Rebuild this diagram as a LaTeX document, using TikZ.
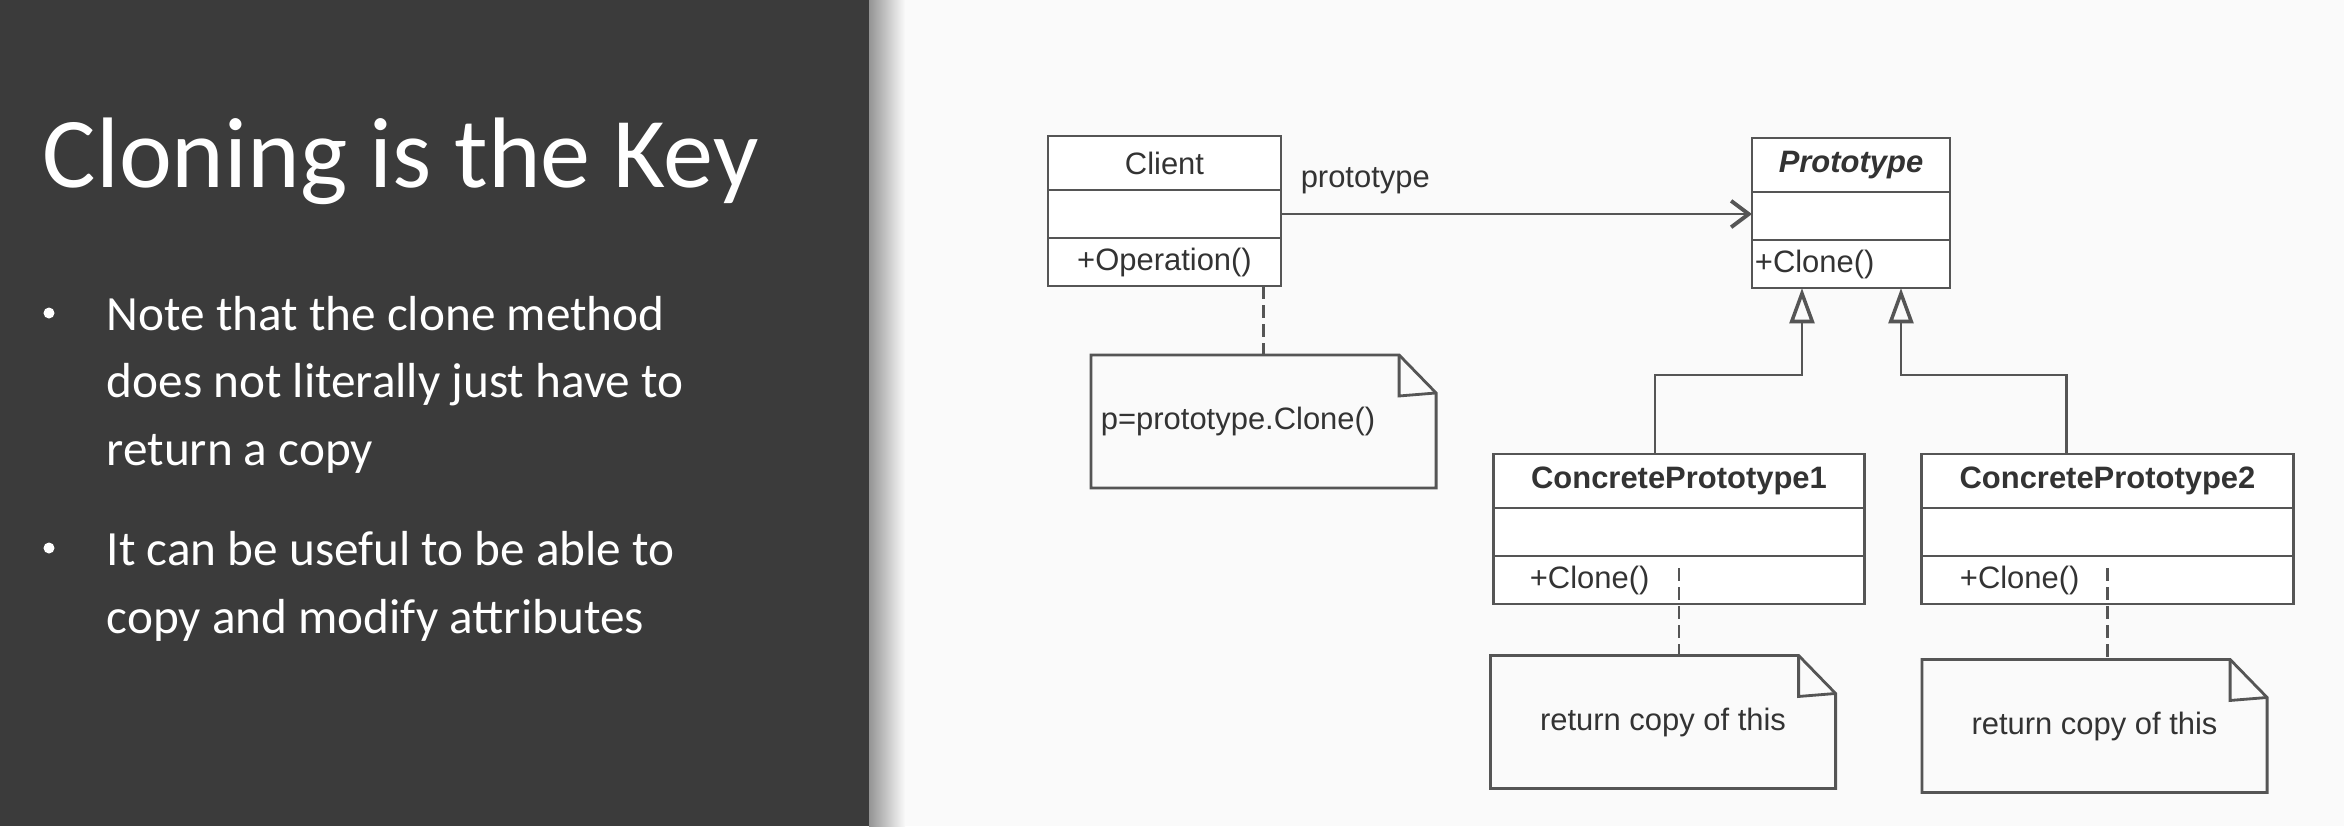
\documentclass[tikz,border=0pt]{standalone}
\usepackage{fontspec}
\setmainfont{Carlito}
\newfontfamily\umlfont{Liberation Sans}
\usetikzlibrary{arrows.meta,calc,positioning}
\definecolor{panel}{HTML}{3B3B3B}
\definecolor{bgright}{HTML}{FAFAFA}
\definecolor{umlgray}{HTML}{555555}
\definecolor{umltextc}{HTML}{333333}
\tikzset{
	umlline/.style={draw=umlgray, line width=0.8pt},
	umlbase/.style={umlline, fill=white, inner sep=0pt, outer sep=0pt,
		font=\umlfont\fontsize{8.8pt}{10pt}\selectfont, text=umltextc},
	umltitle/.style={umlbase, minimum height=0.54cm},
	umlpart/.style={umlbase, minimum height=0.48cm},
	umlnote/.style={inner xsep=0.1cm, inner ysep=0pt, outer sep=0pt, minimum width=3.45cm, minimum height=1.33cm,
		font=\umlfont\fontsize{8.8pt}{10pt}\selectfont, text=umltextc},
	noteline/.style={draw=umlgray, line width=0.6pt, dash pattern=on 3.6pt off 1.8pt},
	assoc/.style={draw=umlgray, line width=0.6pt, -{Straight Barb[length=5pt,width=7.5pt,line width=1.1pt]}},
	inherit/.style={draw=umlgray, line width=0.6pt, -{Triangle[open,length=10pt,width=7pt,line width=1pt]}},
	bulletdot/.style={circle, fill=white, minimum size=0.11cm, inner sep=0pt},
	slidetext/.style={text=white, anchor=base west, align=left, inner sep=0pt,
		font=\fontsize{14pt}{19.06pt}\selectfont}
}
\begin{document}
\begin{tikzpicture}[x=0.01cm, y=-0.01cm]
	\useasboundingbox (0,0) rectangle (2344,826);
	% backgrounds
	\fill[bgright] (0,0) rectangle (2344,826);
	\fill[panel] (0,0) rectangle (869,826);
	\shade[left color=black!42, right color=bgright] (869,0) rectangle (905,826);
	% slide text (base anchor sits on the last line)
	\node[text=white, anchor=base west, inner sep=0pt, font=\fontsize{28.5pt}{34pt}\selectfont] (title) at (42,187) {Cloning is the Key};
	\node[bulletdot] (b1) at (49,313) {};
	\node[slidetext] (t1) at (106,465) {Note that the clone method\\does not literally just have to\\return a copy};
	\node[bulletdot] (b2) at (49,548) {};
	\node[slidetext] (t2) at (106,633) {It can be useful to be able to\\copy and modify attributes};
	% client class
	\node[umltitle, minimum width=2.33cm] (client) at (1164.5,163) {Client};
	\node[umlpart, minimum width=2.33cm, below=0pt of client] (clientattr) {};
	\node[umlpart, text width=2.13cm, inner xsep=0.1cm, align=center, below=0pt of clientattr] (clientop) {+Operation()};
	% prototype class
	\node[umltitle, minimum width=1.98cm] (proto) at (1851,165) {\bfseries\itshape Prototype};
	\node[umlpart, minimum width=1.98cm, below=0pt of proto] (protoattr) {};
	\node[umlpart, text width=1.92cm, inner xsep=0.03cm, align=left, below=0pt of protoattr] (protoop) {+Clone()};
	% concrete classes
	\node[umltitle, minimum width=3.70cm] (cp1) at (1679,481) {\bfseries ConcretePrototype1};
	\node[umlpart, minimum width=3.70cm, below=0pt of cp1] (cp1attr) {};
	\node[umlpart, text width=2.98cm, inner xsep=0.36cm, align=left, below=0pt of cp1attr] (cp1op) {+Clone()};
	\node[umltitle, minimum width=3.71cm] (cp2) at (2107.5,481) {\bfseries ConcretePrototype2};
	\node[umlpart, minimum width=3.71cm, below=0pt of cp2] (cp2attr) {};
	\node[umlpart, text width=2.95cm, inner xsep=0.38cm, align=left, below=0pt of cp2attr] (cp2op) {+Clone()};
	% notes
	\node[umlnote, text width=3.25cm, align=left] (note1) at (1263.5,421.5) {p=prototype.Clone()};
	\node[umlnote, align=center] (note2) at (1663,722) {return copy of this};
	\node[umlnote, align=center] (note3) at (2094.5,726) {return copy of this};
	\foreach \n in {note1,note2,note3} {
		\draw[umlline] (\n.north west) -- ($(\n.north east)+(-37,0)$) -- ($(\n.north east)+(0,38)$)
			-- (\n.south east) -- (\n.south west) -- cycle;
		\draw[umlline] ($(\n.north east)+(-37,0)$) -- ($(\n.north east)+(-37,41)$) -- ($(\n.north east)+(0,38)$);
	}
	% note links
	\draw[noteline] (clientop.south -| note1.north) -- (note1.north);
	\draw[noteline] ($(cp1op.north)+(0,12)$) -- (cp1op.north |- note2.north);
	\draw[noteline] ($(cp2op.north)+(0,12)$) -- (cp2op.north |- note3.north);
	% association
	\draw[assoc] (clientattr.east) -- (clientattr.east -| protoattr.west);
	\node[font=\umlfont\fontsize{8.8pt}{10pt}\selectfont, text=umltextc, anchor=base west, inner sep=0pt] (assoclbl)
		at ($(clientattr.east)+(19,-27)$) {prototype};
	% inheritance
	\coordinate (j1) at ($(protoop.south)+(-49,87)$);
	\coordinate (j2) at ($(protoop.south)+(50,87)$);
	\draw[inherit] ($(cp1.north)+(-24,0)$) |- (j1) -- (j1 |- protoop.south);
	\draw[inherit] ($(cp2.north)+(-41,0)$) |- (j2) -- (j2 |- protoop.south);
\end{tikzpicture}
\end{document}
